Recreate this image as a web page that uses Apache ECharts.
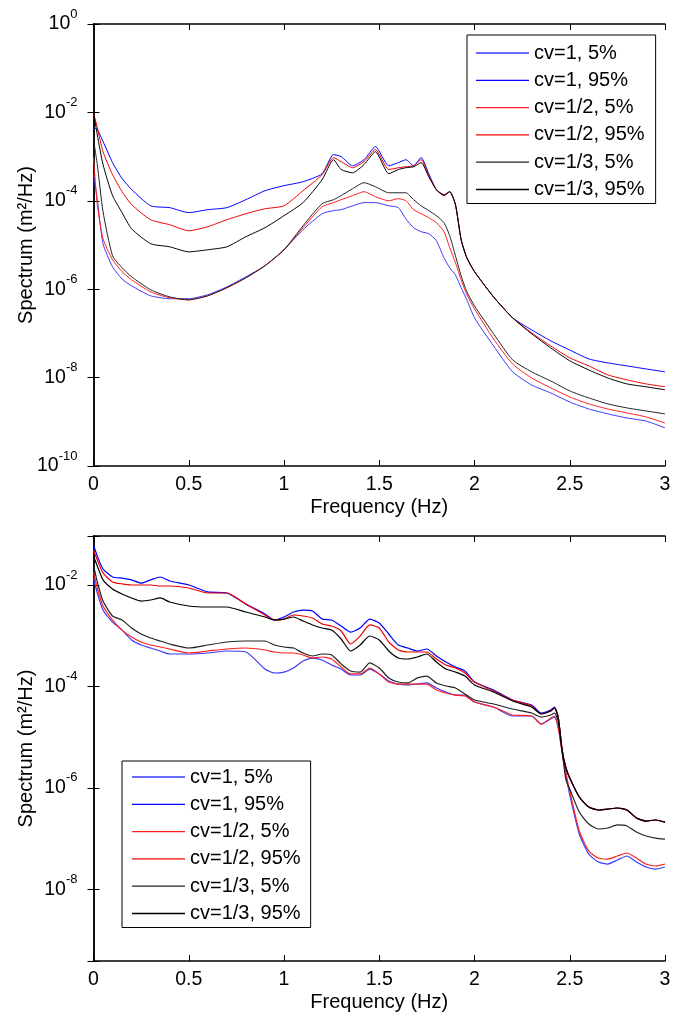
<!DOCTYPE html>
<html>
<head>
<meta charset="utf-8">
<script src="https://cdn.jsdelivr.net/npm/echarts@6/dist/echarts.min.js"></script>
<style>
html,body{margin:0;padding:0;background:#fff;}
#c{width:683px;height:1015px;}
</style>
</head>
<body>
<div id="c"></div>
<script>
// ---------- shared ----------
const seriesNames = ['cv=1, 5%', 'cv=1, 95%', 'cv=1/2, 5%', 'cv=1/2, 95%', 'cv=1/3, 5%', 'cv=1/3, 95%'];
const xTicks = [0, 0.5, 1, 1.5, 2, 2.5, 3];

// ---------- top panel ----------
const fTop = [0, 0.02, 0.05, 0.1, 0.15, 0.2, 0.3, 0.4, 0.5, 0.6, 0.7, 0.8, 0.9, 1.0, 1.1, 1.2, 1.26, 1.3, 1.36, 1.42, 1.48, 1.55, 1.6, 1.64, 1.68, 1.72, 1.76, 1.8, 1.84, 1.87, 1.9, 1.93, 1.96, 2.0, 2.1, 2.2, 2.3, 2.4, 2.5, 2.6, 2.7, 2.8, 2.9, 3.0];
const topB5 = [3.9e-4, 1.06e-4, 1.07e-5, 3.2e-6, 1.7e-6, 1.19e-6, 7.1e-7, 6.1e-7, 6.1e-7, 7.5e-7, 1.13e-6, 1.91e-6, 3.4e-6, 7.8e-6, 2.22e-5, 5.1e-5, 6.0e-5, 6.3e-5, 7.7e-5, 9.1e-5, 9.1e-5, 7.7e-5, 7.0e-5, 3.9e-5, 2.46e-5, 2.0e-5, 1.8e-5, 1.25e-5, 5.1e-6, 3.05e-6, 2.1e-6, 1.08e-6, 5.75e-7, 2.25e-7, 5.2e-8, 1.35e-8, 6.8e-9, 4.5e-9, 2.8e-9, 1.95e-9, 1.51e-9, 1.22e-9, 1.04e-9, 7.3e-10];
const topB95 = [4.5e-3, 4.1e-3, 2.2e-3, 7.3e-4, 3.2e-4, 1.8e-4, 7.7e-5, 7.0e-5, 5.4e-5, 6.3e-5, 7.0e-5, 1.06e-4, 1.69e-4, 2.2e-4, 2.7e-4, 4.1e-4, 1.11e-3, 1.0e-3, 6.2e-4, 8.5e-4, 1.68e-3, 6.2e-4, 7.3e-4, 8.5e-4, 6.2e-4, 9.5e-4, 4.1e-4, 1.78e-4, 1.37e-4, 1.61e-4, 8.2e-5, 1.31e-5, 5.1e-6, 2.5e-6, 6.7e-7, 2.25e-7, 1.2e-7, 6.8e-8, 4.2e-8, 2.65e-8, 2.15e-8, 1.84e-8, 1.57e-8, 1.35e-8];
const topR5 = [9.5e-4, 8.2e-5, 1.39e-5, 4.63e-6, 2.5e-6, 1.63e-6, 8.7e-7, 6.4e-7, 5.75e-7, 7.1e-7, 1.08e-6, 1.81e-6, 3.4e-6, 7.8e-6, 2.46e-5, 7.35e-5, 9.1e-5, 1.06e-4, 1.31e-4, 1.61e-4, 1.24e-4, 1.0e-4, 1.12e-4, 1.0e-4, 6.3e-5, 5.1e-5, 4.14e-5, 3.19e-5, 2.0e-5, 8.67e-6, 3.96e-6, 1.63e-6, 7.5e-7, 3.6e-7, 7.5e-8, 2.04e-8, 9.8e-9, 5.85e-9, 3.66e-9, 2.54e-9, 1.95e-9, 1.59e-9, 1.29e-9, 9.4e-10];
const topR95 = [1.0e-2, 4.5e-3, 1.29e-3, 3.9e-4, 1.61e-4, 8.2e-5, 3.73e-5, 2.88e-5, 2.1e-5, 2.59e-5, 3.73e-5, 5.1e-5, 6.6e-5, 7.7e-5, 1.69e-4, 3.9e-4, 9.5e-4, 7.7e-4, 5.6e-4, 7.7e-4, 1.44e-3, 5.1e-4, 5.6e-4, 5.9e-4, 6.2e-4, 8.5e-4, 3.7e-4, 1.78e-4, 1.37e-4, 1.61e-4, 8.2e-5, 1.31e-5, 5.1e-6, 2.5e-6, 6.7e-7, 2.25e-7, 1.03e-7, 5.2e-8, 2.8e-8, 1.84e-8, 1.15e-8, 8.9e-9, 7.2e-9, 6.2e-9];
const topK5 = [2.42e-3, 6.6e-4, 5.7e-5, 5.7e-6, 3.05e-6, 1.91e-6, 9.7e-7, 6.7e-7, 5.75e-7, 7.1e-7, 1.08e-6, 1.81e-6, 3.4e-6, 7.8e-6, 2.73e-5, 8.6e-5, 1.06e-4, 1.31e-4, 1.88e-4, 2.57e-4, 2.08e-4, 1.52e-4, 1.52e-4, 1.52e-4, 1.06e-4, 7.7e-5, 6.0e-5, 4.6e-5, 3.19e-5, 1.62e-5, 5.7e-6, 2.0e-6, 8.7e-7, 4.2e-7, 9.8e-8, 2.52e-8, 1.35e-8, 8.4e-9, 5.0e-9, 3.47e-9, 2.54e-9, 2.06e-9, 1.76e-9, 1.51e-9];
const topK95 = [1.0e-2, 3.1e-3, 6.6e-4, 1.31e-4, 5.4e-5, 2.33e-5, 1.07e-5, 9.1e-6, 7.0e-6, 7.8e-6, 9.1e-6, 1.54e-5, 2.46e-5, 4.6e-5, 9.1e-5, 3.0e-4, 8.5e-4, 5.1e-4, 4.3e-4, 6.6e-4, 1.29e-3, 4.1e-4, 5.1e-4, 5.6e-4, 5.9e-4, 7.3e-4, 3.5e-4, 1.78e-4, 1.31e-4, 1.61e-4, 8.2e-5, 1.31e-5, 5.1e-6, 2.5e-6, 6.7e-7, 2.25e-7, 9.8e-8, 4.7e-8, 2.4e-8, 1.49e-8, 9.8e-9, 7.2e-9, 6.2e-9, 5.3e-9];
const topYMin = 1e-10, topYMax = 1;

// ---------- bottom panel ----------
const fBot = [0, 0.02, 0.05, 0.1, 0.15, 0.2, 0.25, 0.3, 0.35, 0.4, 0.5, 0.6, 0.7, 0.8, 0.9, 0.95, 1.0, 1.05, 1.1, 1.15, 1.2, 1.25, 1.3, 1.35, 1.4, 1.45, 1.5, 1.55, 1.6, 1.65, 1.7, 1.75, 1.8, 1.85, 1.9, 1.95, 2.0, 2.1, 2.2, 2.3, 2.35, 2.4, 2.42, 2.44, 2.46, 2.48, 2.5, 2.55, 2.6, 2.65, 2.7, 2.75, 2.8, 2.85, 2.9, 2.95, 3.0];
const botB5 = [1.37e-2, 6.95e-3, 3.21e-3, 1.86e-3, 1.29e-3, 8.23e-4, 6.56e-4, 5.72e-4, 4.99e-4, 4.36e-4, 4.36e-4, 4.56e-4, 4.99e-4, 4.77e-4, 2.2e-4, 1.84e-4, 1.92e-4, 2.31e-4, 3.17e-4, 3.63e-4, 3.32e-4, 2.64e-4, 2.2e-4, 1.68e-4, 1.68e-4, 2.2e-4, 1.76e-4, 1.28e-4, 1.11e-4, 1.07e-4, 1.11e-4, 1.17e-4, 9.3e-5, 7.76e-5, 6.76e-5, 6.76e-5, 4.92e-5, 3.92e-5, 2.61e-5, 2.61e-5, 1.81e-5, 2.28e-5, 2.49e-5, 1.51e-5, 5.08e-6, 1.79e-6, 7.21e-7, 1.23e-7, 4.94e-8, 3.44e-8, 3.14e-8, 3.77e-8, 4.52e-8, 3.44e-8, 2.74e-8, 2.5e-8, 2.74e-8];
const botB95 = [6.15e-2, 3.73e-2, 2.07e-2, 1.44e-2, 1.37e-2, 1.26e-2, 1.09e-2, 1.26e-2, 1.44e-2, 1.2e-2, 1.0e-2, 7.3e-3, 6.95e-3, 4.2e-3, 2.68e-3, 2.04e-3, 2.34e-3, 2.93e-3, 3.21e-3, 3.07e-3, 2.13e-3, 2.04e-3, 1.55e-3, 1.18e-3, 1.42e-3, 2.13e-3, 1.78e-3, 1.08e-3, 6.56e-4, 5.72e-4, 4.99e-4, 5.47e-4, 3.98e-4, 3.03e-4, 2.42e-4, 2.01e-4, 1.22e-4, 8.5e-5, 5.4e-5, 4.3e-5, 2.99e-5, 3.42e-5, 3.92e-5, 2.38e-5, 5.57e-6, 2.46e-6, 1.56e-6, 6.59e-7, 4.18e-7, 3.65e-7, 3.82e-7, 4.0e-7, 3.65e-7, 2.54e-7, 2.21e-7, 2.32e-7, 2.11e-7];
const botR5 = [1.8e-2, 8.73e-3, 3.85e-3, 2.04e-3, 1.29e-3, 9.42e-4, 7.51e-4, 6.56e-4, 5.99e-4, 5.47e-4, 4.56e-4, 4.99e-4, 5.47e-4, 5.72e-4, 5.23e-4, 4.77e-4, 4.56e-4, 4.56e-4, 4.16e-4, 3.63e-4, 3.8e-4, 3.47e-4, 2.42e-4, 1.76e-4, 1.76e-4, 2.31e-4, 1.76e-4, 1.22e-4, 1.11e-4, 1.11e-4, 1.11e-4, 1.11e-4, 8.49e-5, 7.41e-5, 6.76e-5, 6.47e-5, 4.92e-5, 3.92e-5, 2.73e-5, 2.61e-5, 1.81e-5, 2.38e-5, 2.61e-5, 1.51e-5, 5.08e-6, 1.96e-6, 8.65e-7, 1.41e-7, 5.67e-8, 4.12e-8, 3.94e-8, 4.52e-8, 5.18e-8, 4.12e-8, 3.14e-8, 2.87e-8, 3.14e-8];
const botR95 = [4.9e-2, 3.11e-2, 1.73e-2, 1.15e-2, 1.05e-2, 1.0e-2, 1.0e-2, 1.0e-2, 9.55e-3, 9.55e-3, 8.73e-3, 6.95e-3, 6.95e-3, 4.22e-3, 2.56e-3, 2.04e-3, 2.13e-3, 2.56e-3, 2.45e-3, 2.23e-3, 1.7e-3, 1.55e-3, 1.24e-3, 6.86e-4, 9.86e-4, 1.63e-3, 1.42e-3, 7.51e-4, 5.23e-4, 4.77e-4, 4.77e-4, 4.77e-4, 3.47e-4, 2.64e-4, 2.31e-4, 1.84e-4, 1.22e-4, 8.11e-5, 5.4e-5, 4.1e-5, 2.86e-5, 3.27e-5, 3.75e-5, 2.38e-5, 5.57e-6, 2.46e-6, 1.56e-6, 6.59e-7, 4.18e-7, 3.65e-7, 3.82e-7, 4.0e-7, 3.65e-7, 2.54e-7, 2.21e-7, 2.32e-7, 2.11e-7];
const botK5 = [2.48e-2, 1.15e-2, 4.83e-3, 2.45e-3, 2.04e-3, 1.42e-3, 1.08e-3, 9.01e-4, 7.86e-4, 6.86e-4, 5.72e-4, 6.56e-4, 7.51e-4, 7.86e-4, 7.86e-4, 6.56e-4, 5.99e-4, 5.72e-4, 4.56e-4, 3.98e-4, 4.36e-4, 4.16e-4, 2.77e-4, 2.01e-4, 1.92e-4, 2.9e-4, 2.31e-4, 1.47e-4, 1.22e-4, 1.17e-4, 1.47e-4, 1.6e-4, 1.17e-4, 1.02e-4, 9.3e-5, 7.08e-5, 5.4e-5, 4.5e-5, 3.58e-5, 2.99e-5, 2.49e-5, 2.73e-5, 2.99e-5, 1.99e-5, 5.08e-6, 1.43e-6, 9.46e-7, 3.33e-7, 1.93e-7, 1.54e-7, 1.61e-7, 1.85e-7, 1.77e-7, 1.34e-7, 1.12e-7, 1.02e-7, 9.77e-8];
const botK95 = [3.73e-2, 2.37e-2, 1.26e-2, 8.34e-3, 6.64e-3, 5.55e-3, 4.83e-3, 5.06e-3, 5.55e-3, 4.62e-3, 3.85e-3, 3.68e-3, 3.68e-3, 2.93e-3, 2.34e-3, 2.04e-3, 2.13e-3, 2.34e-3, 1.95e-3, 1.63e-3, 1.42e-3, 1.29e-3, 8.61e-4, 4.99e-4, 6.56e-4, 9.86e-4, 8.23e-4, 4.99e-4, 3.63e-4, 3.47e-4, 3.8e-4, 4.36e-4, 3.03e-4, 2.2e-4, 1.92e-4, 1.6e-4, 1.07e-4, 7.76e-5, 5.15e-5, 3.92e-5, 2.86e-5, 3.27e-5, 3.75e-5, 2.38e-5, 5.57e-6, 2.46e-6, 1.56e-6, 6.59e-7, 4.18e-7, 3.65e-7, 3.82e-7, 4.0e-7, 3.65e-7, 2.54e-7, 2.21e-7, 2.32e-7, 2.11e-7];
const botYMin = 3.84e-10, botYMax = 0.0926;

// ---------- styling ----------
const FONT = 'Liberation Sans, Arial, sans-serif';
const colors = ['#3a3aff', '#0000ff', '#ff2020', '#ee0000', '#222222', '#000000'];
const topSets = [topB5, topB95, topR5, topR95, topK5, topK95];
const botSets = [botB5, botB95, botR5, botR95, botK5, botK95];

function pairs(xs, ys) { return xs.map((x, i) => [x, ys[i]]); }

function yLabel(v) {
  const e = Math.log10(v);
  const r = Math.round(e);
  if (Math.abs(e - r) > 1e-6) return '';
  return '{b|10}{s|' + r + '}';
}

const axisLineStyle = { lineStyle: { color: '#000', width: 1.5 } };
const tickStyle = { inside: true, length: 6, lineStyle: { color: '#000', width: 1 } };
const labelRich = {
  b: { fontSize: 19.5, fontFamily: FONT, color: '#000' },
  s: { fontSize: 13, fontFamily: FONT, color: '#000', padding: [0, 0, 20, 0] }
};
const nameStyle = { fontSize: 20, fontFamily: FONT, color: '#000' };

function xAxes(grid) {
  return [
    {
      gridIndex: grid, type: 'value', min: 0, max: 3, interval: 0.5, position: 'bottom',
      name: 'Frequency (Hz)', nameLocation: 'middle', nameGap: 31, nameMoveOverlap: false,
      nameTextStyle: nameStyle,
      axisLine: axisLineStyle, axisTick: tickStyle,
      axisLabel: { fontSize: 19.5, fontFamily: FONT, color: '#000', margin: 9,
        formatter: v => String(xTicks.find(t => Math.abs(t - v) < 1e-9) ?? v) },
      splitLine: { show: false }
    },
    {
      gridIndex: grid, type: 'value', min: 0, max: 3, interval: 0.5, position: 'top',
      axisLine: axisLineStyle, axisTick: tickStyle, axisLabel: { show: false }, splitLine: { show: false }
    }
  ];
}
function yAxes(grid, mn, mx) {
  return [
    {
      gridIndex: grid, type: 'log', logBase: 100, min: mn, max: mx, position: 'left',
      name: 'Spectrum (m²/Hz)', nameLocation: 'middle', nameRotate: 90, nameGap: 57, nameMoveOverlap: false,
      nameTextStyle: nameStyle,
      axisLine: axisLineStyle, axisTick: tickStyle,
      axisLabel: { formatter: yLabel, rich: labelRich, margin: 16, color: '#000' },
      splitLine: { show: false }, minorTick: { show: false }, minorSplitLine: { show: false }
    },
    {
      gridIndex: grid, type: 'log', logBase: 100, min: mn, max: mx, position: 'right',
      axisLine: axisLineStyle, axisTick: tickStyle, axisLabel: { show: false },
      splitLine: { show: false }
    }
  ];
}

const series = [];
seriesNames.forEach((n, i) => {
  series.push({
    name: n, type: 'line', xAxisIndex: 0, yAxisIndex: 0, data: pairs(fTop, topSets[i]),
    showSymbol: false, symbol: 'none', color: colors[i], smooth: 0.2,
    lineStyle: { width: 1, color: colors[i] }, itemStyle: { color: colors[i] }, z: 2 + i, animation: false
  });
});
seriesNames.forEach((n, i) => {
  series.push({
    name: n, type: 'line', xAxisIndex: 2, yAxisIndex: 2, data: pairs(fBot, botSets[i]),
    showSymbol: false, symbol: 'none', color: colors[i], smooth: 0.2,
    lineStyle: { width: 1.2, color: colors[i] }, itemStyle: { color: colors[i] }, z: 2 + i, animation: false
  });
});

function legend(left, top, pad) {
  return {
    orient: 'vertical', left: left, top: top, padding: pad, z: 20,
    data: seriesNames, icon: 'rect', itemWidth: 53, itemHeight: 1.3, itemGap: 7.3,
    borderColor: '#000', borderWidth: 1, backgroundColor: '#fff',
    textStyle: { fontSize: 20, fontFamily: FONT, color: '#000', lineHeight: 20 },
    selectedMode: false
  };
}

const chart = echarts.init(document.getElementById('c'), null, { renderer: 'canvas' });
chart.setOption({
  backgroundColor: '#fff',
  animation: false,
  grid: [
    { left: 93.5, top: 24, width: 571.5, height: 442, containLabel: false },
    { left: 93.5, top: 536, width: 571.5, height: 425, containLabel: false }
  ],
  xAxis: xAxes(0).concat(xAxes(1)),
  yAxis: yAxes(0, topYMin, topYMax).concat(yAxes(1, botYMin, botYMax)),
  legend: [legend(467, 35, [8, 11, 4, 9]), legend(122, 761, [6, 10, 4, 10])],
  series: series
});
</script>
</body>
</html>
